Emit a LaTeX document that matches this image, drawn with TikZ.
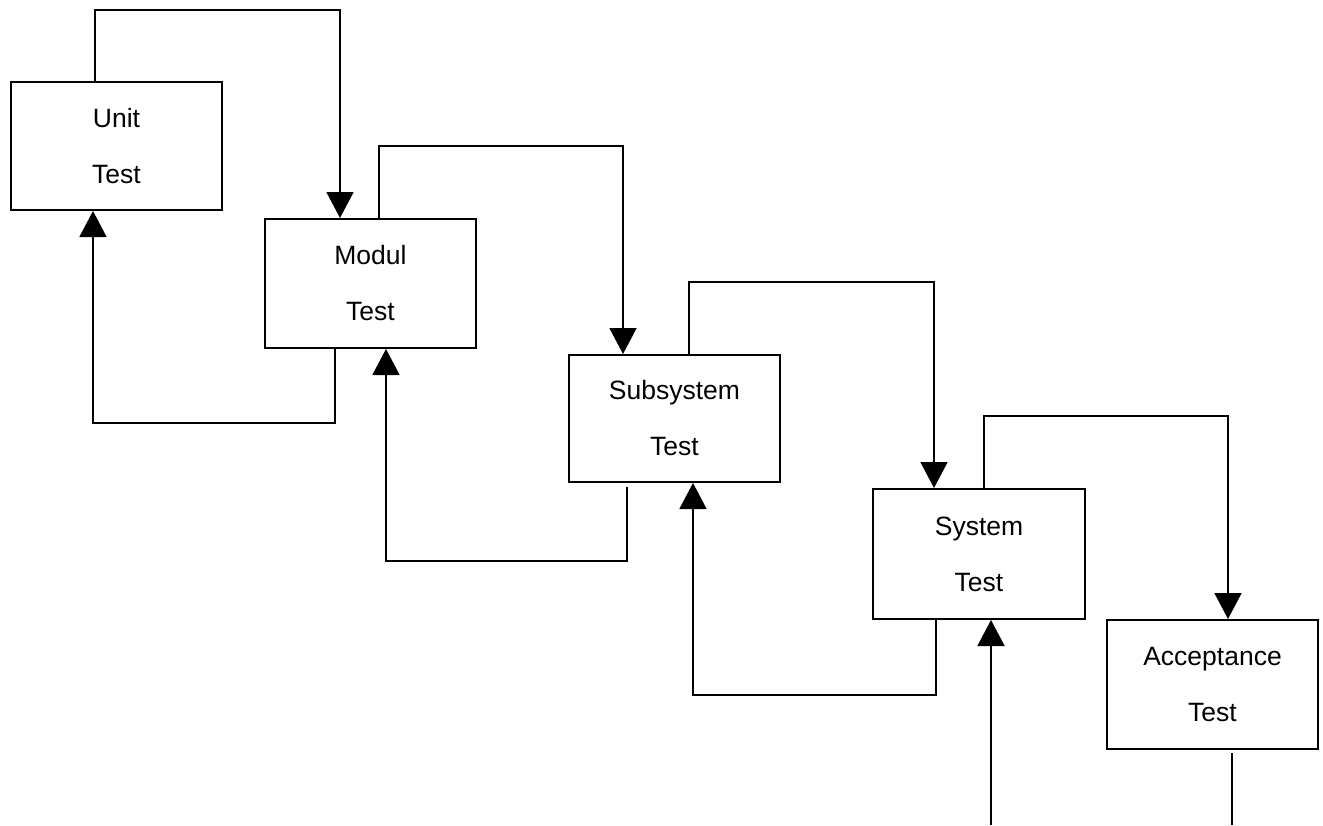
\documentclass[tikz,border=0pt]{standalone}
\usepackage{fontspec}
\setmainfont{Liberation Sans}
\usetikzlibrary{arrows.meta,calc}
\begin{document}
\begin{tikzpicture}[x=1pt,y=-1pt,
  box/.style={draw,line width=2pt,minimum width=211pt,inner sep=0pt,align=center,
    font=\fontsize{26.5}{56}\selectfont},
  conn/.style={line width=1.8pt},
  arr/.style={conn,-{Triangle[width=27pt,length=26pt]}}]
\useasboundingbox (0,0) rectangle (1323,825);
\node[box,minimum height=128pt] (unit) at (116.5,146) {Unit\\Test};
\node[box,minimum height=129pt] (modul) at (370.5,283.5) {Modul\\Test};
\node[box,minimum height=127pt] (subsys) at (674.5,418.5) {Subsystem\\Test};
\node[box,minimum height=130pt,minimum width=212pt] (system) at (979,554) {System\\Test};
\node[box,minimum height=129pt] (accept) at (1212.5,684.5) {Acceptance\\Test};
% forward connectors
\coordinate (f1) at (340,10);
\coordinate (f2) at (623,146);
\coordinate (f3) at (934,282);
\coordinate (f4) at (1228,416);
\draw[arr] ([xshift=85pt]unit.north west) |- (f1) -- (f1 |- modul.north);
\draw[arr] ([xshift=115pt]modul.north west) |- (f2) -- (f2 |- subsys.north);
\draw[arr] ([xshift=121pt]subsys.north west) |- (f3) -- (f3 |- system.north);
\draw[arr] ([xshift=112pt]system.north west) |- (f4) -- (f4 |- accept.north);
% backward connectors
\coordinate (b1) at (93,423);
\coordinate (b2) at (386,561);
\coordinate (b3) at (693,695);
\coordinate (in1) at (991,825);
\coordinate (s5) at (1232,753);
\coordinate (out1) at (1232,825);
\draw[arr] ([xshift=71pt]modul.south west) |- (b1) -- (b1 |- unit.south);
\draw[arr] ([xshift=59pt,yshift=-4pt]subsys.south west) |- (b2) -- (b2 |- modul.south);
\draw[arr] ([xshift=64pt]system.south west) |- (b3) -- (b3 |- subsys.south);
\draw[arr] (in1) -- (in1 |- system.south);
\draw[conn] (s5) -- (out1);
\end{tikzpicture}
\end{document}
